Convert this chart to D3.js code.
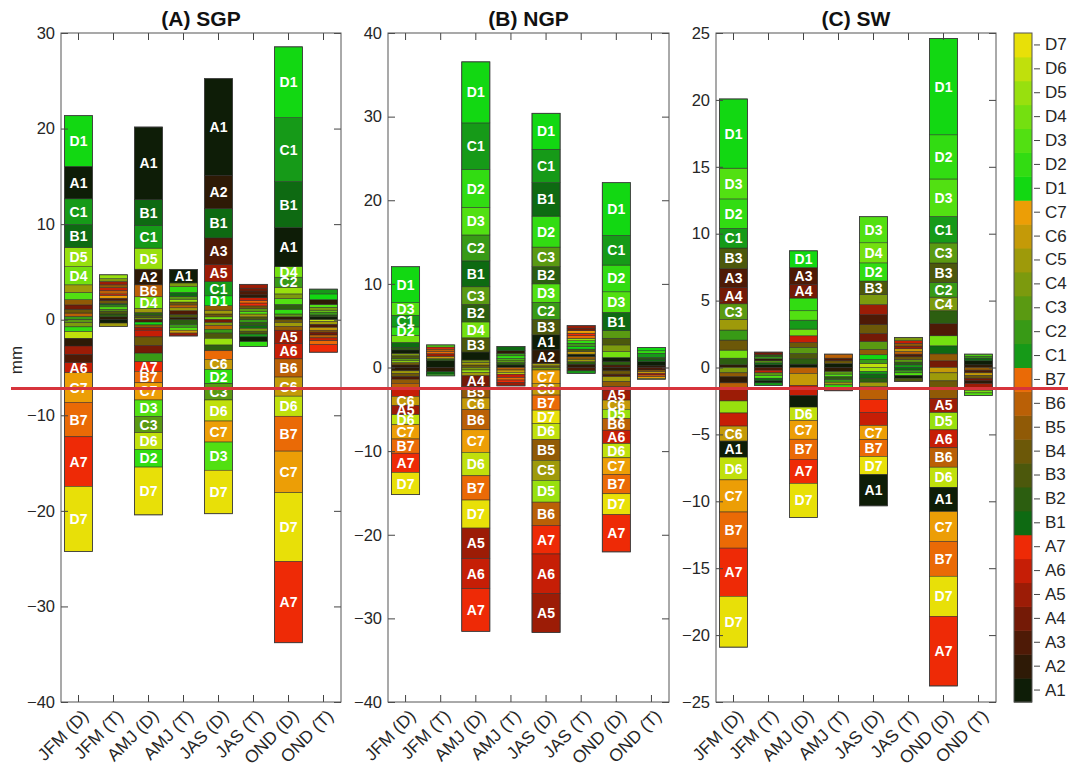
<!DOCTYPE html>
<html lang="en">
<head>
<meta charset="UTF-8">
<title>Seasonal contributions (mm)</title>
<script src="https://cdn.jsdelivr.net/npm/d3@7"></script>
<style>
    body { margin: 0; background: #fff; }
    svg { font-family: Arial, "Liberation Sans", sans-serif; }
</style>
</head>
<body>
<svg id="chart" width="1071" height="776"></svg>
<script>
// Categories
var seasons = ["JFM (D)", "JFM (T)", "AMJ (D)", "AMJ (T)", "JAS (D)", "JAS (T)", "OND (D)", "OND (T)"];
var classes = ["A1","A2","A3","A4","A5","A6","A7","B1","B2","B3","B4","B5","B6","B7",
               "C1","C2","C3","C4","C5","C6","C7","D1","D2","D3","D4","D5","D6","D7"];
var titles = ["(A) SGP", "(B) NGP", "(C) SW"];
var domains = [[-40, 30], [-40, 40], [-25, 25]];
var yTicks = [[-40,-30,-20,-10,0,10,20,30], [-40,-30,-20,-10,0,10,20,30,40], [-25,-20,-15,-10,-5,0,5,10,15,20,25]];

// Stacks per season, listed from zero outward: [class, mm]
var sgpUp = [
    [["C2",.35],["B6",.35],["B4",.4],["A4",.45],["B5",.55],["D3",.75],["C5",.8],["D4",1.9],["D5",2.0],["B1",2.4],["C1",2.7],["A1",3.4],["D1",5.3]],
    [["A2",.3],["B2",.3],["B3",.3],["C3",.2],["D3",.25],["C2",.2],["B1",.15],["B4",.3],["A3",.25],["C7",.3],["A7",.15],["B6",.35],["A6",.3],["B5",.3],["A5",.35],["C4",.3],["D5",.4]],
    [["C4",.2],["B3",.25],["B2",.3],["C5",.45],["D4",1.2],["B6",1.25],["A2",1.64],["D5",2.2],["C1",2.35],["B1",2.72],["A1",7.6]],
    [["A2",.25],["B3",.3],["A3",.4],["C5",.3],["B6",.3],["B4",.3],["D5",.3],["C3",.3],["B1",.4],["D2",.6],["C4",.4],["A1",1.4]],
    [["D4",.3],["B4",.3],["C5",.4],["B5",.47],["D1",1.03],["C1",1.5],["A5",1.76],["A3",2.8],["B1",3.06],["A2",3.5],["A1",10.1]],
    [["B3",.3],["C5",.3],["D3",.25],["C3",.3],["B4",.3],["A7",.3],["B7",.25],["A6",.3],["A2",.3],["A3",.4],["A4",.3],["A5",.4]],
    [["A2",.3],["C3",.3],["D2",.5],["B2",.5],["D3",.6],["C4",.5],["D5",.7],["C2",1.05],["D4",1.1],["A1",4.1],["B1",4.8],["C1",6.7],["D1",7.4]],
    [["A1",.3],["B2",.2],["C2",.3],["D4",.2],["C4",.3],["D3",.3],["A2",.5],["D1",.6],["C1",.5]]
];
var sgpDown = [
    [["C3",.3],["C4",.45],["D2",.5],["D6",.7],["A2",.8],["A5",.9],["A3",.85],["A6",1.05],["C7",3.1],["B7",3.6],["A7",5.2],["D7",6.8]],
    [["A1",.35],["C5",.35]],
    [["A3",.25],["D1",.3],["B5",.25],["A5",.3],["A6",.7],["B4",.9],["A4",.8],["C2",.9],["A7",1.0],["B7",1.2],["C7",1.8],["D3",1.72],["C3",1.7],["D6",1.75],["D2",1.85],["D7",5.0]],
    [["B2",.5],["C2",.3],["D3",.3],["C6",.3],["A5",.3]],
    [["A4",.3],["C4",.3],["B6",.4],["C2",.4],["B3",.55],["D5",.7],["B2",.6],["B7",.9],["C6",1.05],["D2",1.5],["C3",1.7],["D6",2.2],["C7",2.2],["D3",2.95],["D7",4.55]],
    [["C2",.3],["B2",.3],["B1",.3],["C4",.3],["B3",.3],["C1",.3],["A1",.5],["D2",.5]],
    [["B4",.3],["C5",.4],["B5",.4],["A5",1.4],["A6",1.6],["B6",1.9],["C6",2.0],["D6",2.1],["B7",3.65],["C7",4.35],["D7",7.2],["A7",8.5]],
    [["D6",.2],["C5",.3],["A3",.3],["C6",.3],["B5",.2],["A4",.3],["B6",.3],["A6",.3],["B7",.4],["A7",.8]]
];

var ngpUp = [
    [["A2",.3],["B4",.3],["D5",.2],["C3",.3],["B3",.3],["C4",.3],["A1",.4],["B2",.3],["B1",.6],["D4",.85],["D2",1.0],["C1",1.4],["D3",1.5],["D1",4.3]],
    [["A1",.8],["B2",.25],["C6",.3],["A5",.3],["B7",.25],["B6",.3],["A7",.25],["D3",.25]],
    [["B4",.3],["C5",.3],["C4",.3],["A1",.95],["B3",1.7],["D4",1.9],["B2",2.1],["C3",2.1],["B1",3.1],["C2",3.1],["D3",3.3],["D2",4.5],["C1",5.6],["D1",7.3]],
    [["A1",.3],["B2",.3],["C3",.3],["D3",.2],["D2",.3],["C2",.3],["A2",.3],["B1",.5]],
    [["B4",.2],["C5",.3],["A2",1.6],["A1",1.8],["B3",1.85],["C2",2.05],["D3",2.2],["B2",2.05],["C3",2.35],["D2",3.7],["B1",4.0],["C1",4.0],["D1",4.3]],
    [["A2",.4],["B2",.3],["C5",.3],["B5",.3],["A1",.3],["C6",.3],["B3",.3],["D1",.3],["C2",.4],["D2",.3],["D5",.3],["B7",.3],["A7",.3],["C7",.3],["A4",.3],["A5",.3]],
    [["A3",.3],["B2",.4],["A1",.5],["D4",.7],["C4",.8],["B3",.8],["C3",.9],["B1",2.2],["D3",2.45],["D2",3.2],["C1",3.55],["D1",6.3]],
    [["A2",.2],["A1",.5],["B1",.3],["B2",.2],["C1",.5],["D2",.3],["D1",.4]]
];
var ngpDown = [
    [["A2",.4],["C5",.3],["B4",.4],["A3",.3],["B5",.5],["B6",.6],["A6",.95],["C6",1.1],["A5",1.1],["D6",1.2],["C7",1.7],["B7",1.7],["A7",2.3],["D7",2.65]],
    [["A2",.5],["B1",.3],["D2",.2]],
    [["C4",.3],["D5",.3],["C5",.4],["A4",1.3],["B5",1.35],["C6",1.4],["B6",2.4],["C7",2.7],["D6",2.8],["B7",2.9],["D7",3.35],["A5",3.65],["A6",3.6],["A7",5.1]],
    [["B6",.3],["C6",.3],["D6",.2],["A6",.4],["B7",.3],["A7",.3],["A5",.4]],
    [["C4",.3],["C7",1.6],["C6",1.4],["B7",1.8],["D7",1.6],["D6",1.9],["B5",2.5],["C5",2.4],["D5",2.6],["B6",2.8],["A7",3.4],["A6",4.7],["A5",4.7]],
    [["A3",.4],["C1",.3]],
    [["A2",.4],["B4",.4],["A3",.3],["C5",.6],["B5",.6],["B6",.4],["A5",1.2],["C6",1.1],["D5",1.1],["B6",1.4],["A6",1.6],["D6",1.7],["C7",2.0],["B7",2.3],["D7",2.5],["A7",4.45]],
    [["A3",.3],["B5",.2],["C6",.2],["A6",.2],["B7",.2],["C7",.2],["D6",.1]]
];

var swUp = [
    [["A2",.2],["B2",.5],["D4",.6],["B4",.75],["C2",.75],["C5",.8],["C3",1.16],["A4",1.24],["A3",1.38],["B3",1.55],["C1",1.47],["D2",2.2],["D3",2.3],["D1",5.17]],
    [["A1",.2],["B1",.15],["C3",.15],["A2",.15],["C2",.15],["B2",.15],["A4",.2]],
    [["A1",.25],["B2",.4],["B3",.4],["C3",.45],["B4",.37],["A6",.5],["D4",.5],["C1",.67],["D3",.7],["D2",.95],["A4",1.03],["A3",1.25],["D1",1.25]],
    [["A1",.3],["B4",.2],["A3",.2],["B6",.3]],
    [["D6",.3],["C2",.3],["D1",.35],["B5",.4],["C3",.6],["A4",.6],["B4",.65],["A3",.75],["A5",.75],["C4",.74],["B3",1.02],["D2",1.36],["D4",1.5],["D3",1.95]],
    [["C1",.2],["B2",.2],["C3",.2],["B4",.2],["A3",.2],["B6",.2],["C6",.2],["A5",.2],["B5",.2],["A6",.2],["C4",.25]],
    [["A4",.5],["B5",.52],["B1",.6],["D4",.75],["A3",.9],["B2",.97],["C4",1.02],["C2",1.1],["B3",1.45],["C3",1.5],["C1",1.98],["D3",2.8],["D2",3.3],["D1",7.2]],
    [["A2",.2],["A1",.3],["B1",.2],["C2",.15],["D3",.15]]
];
var swDown = [
    [["C4",.4],["B5",.3],["A2",.45],["B6",.4],["A5",.95],["D5",.9],["A6",.98],["C6",1.12],["A1",1.2],["D6",1.7],["C7",2.4],["B7",2.7],["A7",3.6],["D7",3.8]],
    [["A3",.2],["A6",.2],["C3",.2],["D3",.2],["B1",.2],["A1",.15],["C1",.2]],
    [["B6",.45],["C6",.9],["A6",.75],["A1",.86],["D6",1.0],["C7",1.4],["B7",1.5],["A7",1.8],["D7",2.55]],
    [["A2",.3],["C3",.2],["D3",.2],["B2",.2],["C2",.2],["C5",.2],["D2",.2],["A5",.24]],
    [["D5",.3],["C1",.2],["B1",.3],["B2",.3],["C5",.35],["B6",.95],["A7",.95],["A6",.98],["C7",1.07],["B7",1.25],["D7",1.35],["A1",2.34]],
    [["B1",.2],["C2",.2],["D3",.2],["A1",.2],["B3",.25]],
    [["C6",.4],["C5",.6],["B4",.5],["B5",.8],["A5",1.07],["D5",1.29],["A6",1.34],["B6",1.45],["D6",1.5],["A1",1.82],["C7",2.23],["B7",2.6],["D7",3.0],["A7",5.2]],
    [["B5",.2],["A3",.2],["C6",.2],["B4",.2],["A4",.2],["A2",.2],["A5",.3],["C4",.2],["D4",.2],["D3",.2]]
];

// red reference line, in SGP axis units
var refLineValue = -7.2;

// Layout
var plotTop = 33, plotBottom = 702;
var frames = [[61, 341], [388, 669], [716, 996]];
var palette = [
    "#0e1d07","#2e1a06","#4e1a06","#741a06","#9c1c06","#c61e06","#ee2a06",
    "#0e6a12","#2c5e10","#4c580c","#6c5808","#905a06","#ba6006","#ea6a06",
    "#169a18","#389a16","#5a9a12","#7c9a0e","#9e9a0a","#c49a08","#ec9e06",
    "#12d812","#32dc12","#52e012","#74e010","#98e00e","#c0e00c","#e8e008"
];
var color = d3.scaleOrdinal(classes, palette);

var svg = d3.select("#chart");
svg.append("rect").attr("width", 1071).attr("height", 776).attr("fill", "#fff");

var panels = [[sgpUp, sgpDown], [ngpUp, ngpDown], [swUp, swDown]];
var yScales = [];

panels.forEach(function (pd, p) {
    var x0 = frames[p][0], x1 = frames[p][1];
    var x = d3.scaleBand(seasons, [x0, x1]).paddingInner(0.2).paddingOuter(0.1);
    var y = d3.scaleLinear(domains[p], [plotBottom, plotTop]);
    yScales.push(y);
    var g = svg.append("g");

    // build segments from the stacks
    var segs = [], bars = [];
    seasons.forEach(function (s, i) {
        var ext = [0, 0];
        [[pd[0][i], 1], [pd[1][i], -1]].forEach(function (pair) {
            var acc = 0;
            pair[0].forEach(function (d) {
                segs.push({ season: s, cls: d[0], v: d[1], a: pair[1] * acc, b: pair[1] * (acc + d[1]) });
                acc += d[1];
            });
            if (pair[1] > 0) ext[1] = acc; else ext[0] = -acc;
        });
        bars.push({ season: s, lo: ext[0], hi: ext[1] });
    });

    g.selectAll("rect.seg").data(segs).join("rect")
        .attr("class", "seg")
        .attr("x", function (d) { return x(d.season); })
        .attr("width", x.bandwidth())
        .attr("y", function (d) { return y(Math.max(d.a, d.b)); })
        .attr("height", function (d) { return Math.abs(y(d.a) - y(d.b)); })
        .attr("fill", function (d) { return color(d.cls); })
        .attr("stroke", "#2b2b2b")
        .attr("stroke-width", 0.5);

    g.selectAll("rect.bar").data(bars).join("rect")
        .attr("class", "bar")
        .attr("x", function (d) { return x(d.season); })
        .attr("width", x.bandwidth())
        .attr("y", function (d) { return y(d.hi); })
        .attr("height", function (d) { return y(d.lo) - y(d.hi); })
        .attr("fill", "none")
        .attr("stroke", "#3a3a3a")
        .attr("stroke-width", 0.8);

    g.selectAll("text.lbl").data(segs.filter(function (d) { return d.v >= 0.995; })).join("text")
        .attr("class", "lbl")
        .attr("x", function (d) { return x(d.season) + x.bandwidth() / 2; })
        .attr("y", function (d) { return y((d.a + d.b) / 2); })
        .attr("text-anchor", "middle")
        .attr("dominant-baseline", "central")
        .attr("font-size", 14)
        .attr("font-weight", "bold")
        .attr("fill", "#fff")
        .text(function (d) { return d.cls; });

    // axes, MATLAB style with inward ticks
    var left = g.append("g").attr("transform", "translate(" + x0 + ",0)")
        .call(d3.axisLeft(y).tickValues(yTicks[p]).tickSize(-7).tickPadding(6));
    var right = g.append("g").attr("transform", "translate(" + x1 + ",0)")
        .call(d3.axisRight(y).tickValues(yTicks[p]).tickSize(-7).tickFormat(""));
    var topAx = g.append("g").attr("transform", "translate(0," + plotTop + ")")
        .call(d3.axisTop(x).tickSize(-7).tickFormat(""));
    var bottomAx = g.append("g").attr("transform", "translate(0," + plotBottom + ")")
        .call(d3.axisBottom(x).tickSize(-7));

    [left, right, topAx, bottomAx].forEach(function (a) {
        a.select(".domain").remove();
        a.selectAll("line").attr("stroke", "#444");
        a.selectAll("text").attr("font-size", 16.5).attr("fill", "#262626")
            .attr("font-family", "Arial, 'Liberation Sans', sans-serif");
    });

    bottomAx.selectAll("text")
        .attr("x", 0).attr("y", 0).attr("dy", 0)
        .attr("font-size", 17.5)
        .attr("text-anchor", "end")
        .attr("transform", "translate(11,15) rotate(-45)");

    g.append("rect")
        .attr("x", x0).attr("y", plotTop)
        .attr("width", x1 - x0).attr("height", plotBottom - plotTop)
        .attr("fill", "none").attr("stroke", "#555").attr("stroke-width", 1);

    g.append("text")
        .attr("x", (x0 + x1) / 2).attr("y", 26)
        .attr("text-anchor", "middle")
        .attr("font-size", 21).attr("font-weight", "bold").attr("fill", "#111")
        .text(titles[p]);
});

// y label
svg.append("text")
    .attr("transform", "translate(22,360) rotate(-90)")
    .attr("text-anchor", "middle")
    .attr("font-size", 17).attr("fill", "#262626")
    .text("mm");

// Colour bar
var cbX = 1014, cbW = 18;
var cb = d3.scaleBand(classes, [plotBottom, plotTop]);
var cbG = svg.append("g");
cbG.selectAll("rect").data(classes).join("rect")
    .attr("x", cbX).attr("width", cbW)
    .attr("y", function (d) { return cb(d); })
    .attr("height", cb.bandwidth() + 0.5)
    .attr("fill", function (d) { return color(d); });
cbG.append("rect")
    .attr("x", cbX).attr("y", plotTop).attr("width", cbW).attr("height", plotBottom - plotTop)
    .attr("fill", "none").attr("stroke", "#555").attr("stroke-width", 1);
var cbAxis = cbG.append("g").attr("transform", "translate(" + (cbX + cbW + 2) + ",0)")
    .call(d3.axisRight(cb).tickSize(6).tickPadding(5));
cbAxis.select(".domain").remove();
cbAxis.selectAll("line").attr("stroke", "#444");
cbAxis.selectAll("text").attr("font-size", 17).attr("fill", "#262626")
    .attr("font-family", "Arial, 'Liberation Sans', sans-serif");

// red reference line across the figure
svg.append("line")
    .attr("x1", 11).attr("x2", 1068)
    .attr("y1", yScales[0](refLineValue)).attr("y2", yScales[0](refLineValue))
    .attr("stroke", "#d7343c").attr("stroke-width", 3);
</script>
</body>
</html>
